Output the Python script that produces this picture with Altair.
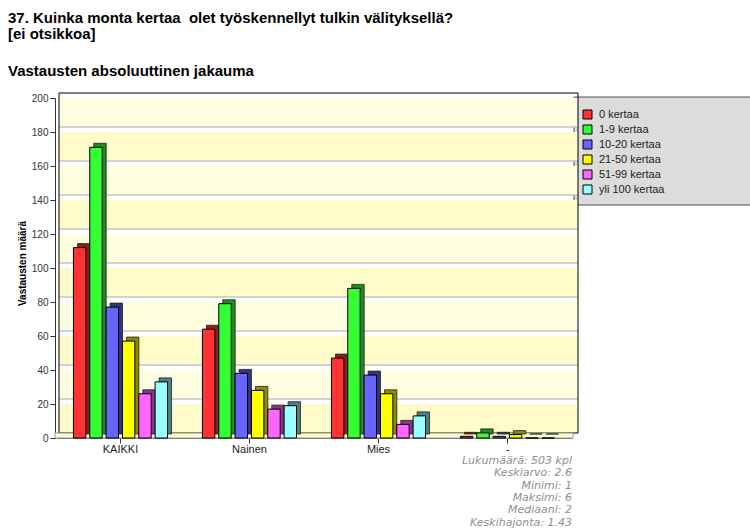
import altair as alt
import pandas as pd

categories = ["KAIKKI", "Nainen", "Mies", "-"]
series = ["0 kertaa", "1-9 kertaa", "10-20 kertaa", "21-50 kertaa", "51-99 kertaa", "yli 100 kertaa"]
values = {
    "KAIKKI": [112, 171, 77, 57, 26, 33],
    "Nainen": [64, 79, 38, 28, 17, 19],
    "Mies": [47, 88, 37, 26, 8, 13],
    "-": [1, 3, 1, 2, 0, 0],
}
front_colors = ["#FF3333", "#33FF33", "#6666FF", "#FFFF00", "#FF66FF", "#99FFFF"]
side_colors = ["#8C1F1F", "#1F8C1F", "#33337F", "#8C8C00", "#8C338C", "#4D8080"]

title_lines = ["37. Kuinka monta kertaa\u00a0 olet työskennellyt tulkin välityksellä?", "[ei otsikkoa]",
               "Vastausten absoluuttinen jakauma"]
stats_lines = ["Lukumäärä: 503 kpl", "Keskiarvo: 2.6", "Minimi: 1", "Maksimi: 6",
               "Mediaani: 2", "Keskihajonta: 1.43"]

band_lo = list(range(0, 200, 20))
band_col = ["#FFFBCB" if (i % 2 == 0) else "#FFFEE1" for i in range(len(band_lo))]
grid_vals = list(range(20, 200, 20))
tick_vals = list(range(0, 201, 20))

rows = []
for c in categories:
    for i, s in enumerate(series):
        rows.append({"cat": c, "ser": s, "order": i, "v": values[c][i], "dark": side_colors[i]})
df = pd.DataFrame(rows)

bands = pd.DataFrame({"lo": band_lo, "hi": [b + 20 for b in band_lo], "col": band_col})
grids = pd.DataFrame({"g": grid_vals})

W, H = 523, 340
FONT = "Liberation Sans"

yscale = alt.Scale(domain=[0, 200], nice=False)
yaxis = alt.Axis(
    title="Vastausten määrä", values=tick_vals, grid=False, labelOverlap=False,
    domainColor="#333", tickColor="#333", tickSize=5, labelFontSize=10, labelColor="#333",
    labelFont=FONT, titleFont=FONT, titleFontSize=10, titleFontWeight="bold", titleColor="#000",
    titleAngle=-90, titleX=-30, titleY=165, titleAlign="center", titleBaseline="alphabetic")

xscale = alt.Scale(domain=categories, range=[1, 517], paddingInner=0.24, paddingOuter=0.12)
BAND = 98
off_front = alt.Scale(domain=series, range=[0, BAND], paddingInner=0.24, paddingOuter=0.12)
off_shadow = alt.Scale(domain=series, range=[4, BAND + 4], paddingInner=0.24, paddingOuter=0.12)

wall = alt.Chart(bands).mark_rect(yOffset=-5).encode(
    x=alt.value(4), x2=alt.value(W),
    y=alt.Y("lo:Q", scale=yscale, axis=yaxis),
    y2="hi:Q",
    color=alt.Color("col:N", scale=None),
)

floor = alt.Chart(bands).transform_filter("datum.lo == 0").mark_rect(
    color="#FFFFCC", stroke="#999999", strokeWidth=1).encode(
    x=alt.value(0), x2=alt.value(W - 5), y=alt.value(H - 5), y2=alt.value(H))

gridlines = alt.Chart(grids).mark_rule(color="#C4C4C4", strokeWidth=1.5, yOffset=-5).encode(
    x=alt.value(4), x2=alt.value(W), y=alt.Y("g:Q", scale=yscale, axis=yaxis))

wall_edge = alt.Chart(bands).transform_filter("datum.lo == 0").mark_rect(
    fill=None, fillOpacity=0, stroke="#000", strokeWidth=1).encode(
    x=alt.value(4), x2=alt.value(W), y=alt.value(-5), y2=alt.value(H - 5))

xaxis = alt.Axis(title=None, labelFontSize=11, labelFont=FONT, labelColor="#222", domainColor="#666",
                 tickColor="#333", tickSize=5, labelPadding=0, labelAngle=0)

shadow = alt.Chart(df).mark_bar(yOffset=-4, stroke="#222", strokeWidth=0.8).encode(
    x=alt.X("cat:N", scale=xscale, axis=xaxis, sort=categories),
    xOffset=alt.XOffset("ser:N", scale=off_shadow, sort=series),
    y=alt.Y("v:Q", scale=yscale, axis=yaxis),
    color=alt.Color("dark:N", scale=None),
)

front = alt.Chart(df).mark_bar(stroke="#000", strokeWidth=1).encode(
    x=alt.X("cat:N", scale=xscale, axis=xaxis, sort=categories),
    xOffset=alt.XOffset("ser:N", scale=off_front, sort=series),
    y=alt.Y("v:Q", scale=yscale, axis=yaxis),
    color=alt.Color("ser:N", sort=series, scale=alt.Scale(domain=series, range=front_colors),
                    legend=alt.Legend(title=None, orient="none", legendX=527, legendY=11, padding=0,
                                      symbolType="square", symbolSize=81, symbolStrokeColor="#000",
                                      symbolStrokeWidth=1, labelFontSize=11, labelFont=FONT,
                                      labelColor="#222", rowPadding=2, labelOffset=6)),
)

bars = alt.layer(shadow, front).resolve_scale(xOffset="independent", color="independent")

legend_box = alt.Chart(bands).transform_filter("datum.lo == 0").mark_rect(
    fill="#DCDCDC", stroke="#555", strokeWidth=1).encode(
    x=alt.value(519), x2=alt.value(720), y=alt.value(-1), y2=alt.value(107))

titles = pd.DataFrame({"t": title_lines, "yy": [-80, -64, -27]})
title_mark = alt.Chart(titles).mark_text(align="left", baseline="middle", fontSize=15,
                                         fontWeight="bold", font=FONT, color="#000").encode(
    x=alt.value(-47), y=alt.Y("yy:Q", scale=None), text="t:N")

stats = pd.DataFrame({"t": ["\n".join(stats_lines)]})
stats_mark = alt.Chart(stats).mark_text(align="right", baseline="top", fontSize=11, fontStyle="italic",
                                        font="DejaVu Sans", color="#8F8F8F", lineBreak="\n",
                                        lineHeight=12.3).encode(
    x=alt.value(517), y=alt.value(357), text="t:N")

chart = alt.layer(
    legend_box, wall, gridlines, wall_edge, floor, bars, title_mark, stats_mark
).resolve_scale(color="independent", xOffset="independent").properties(
    width=W, height=H,
    autosize=alt.AutoSizeParams(type="none"),
    padding={"left": 55, "top": 98, "right": 172, "bottom": 93},
    background="white",
).configure_view(stroke=None)

chart.save("out.html", embed_options={"renderer": "svg", "actions": False})
